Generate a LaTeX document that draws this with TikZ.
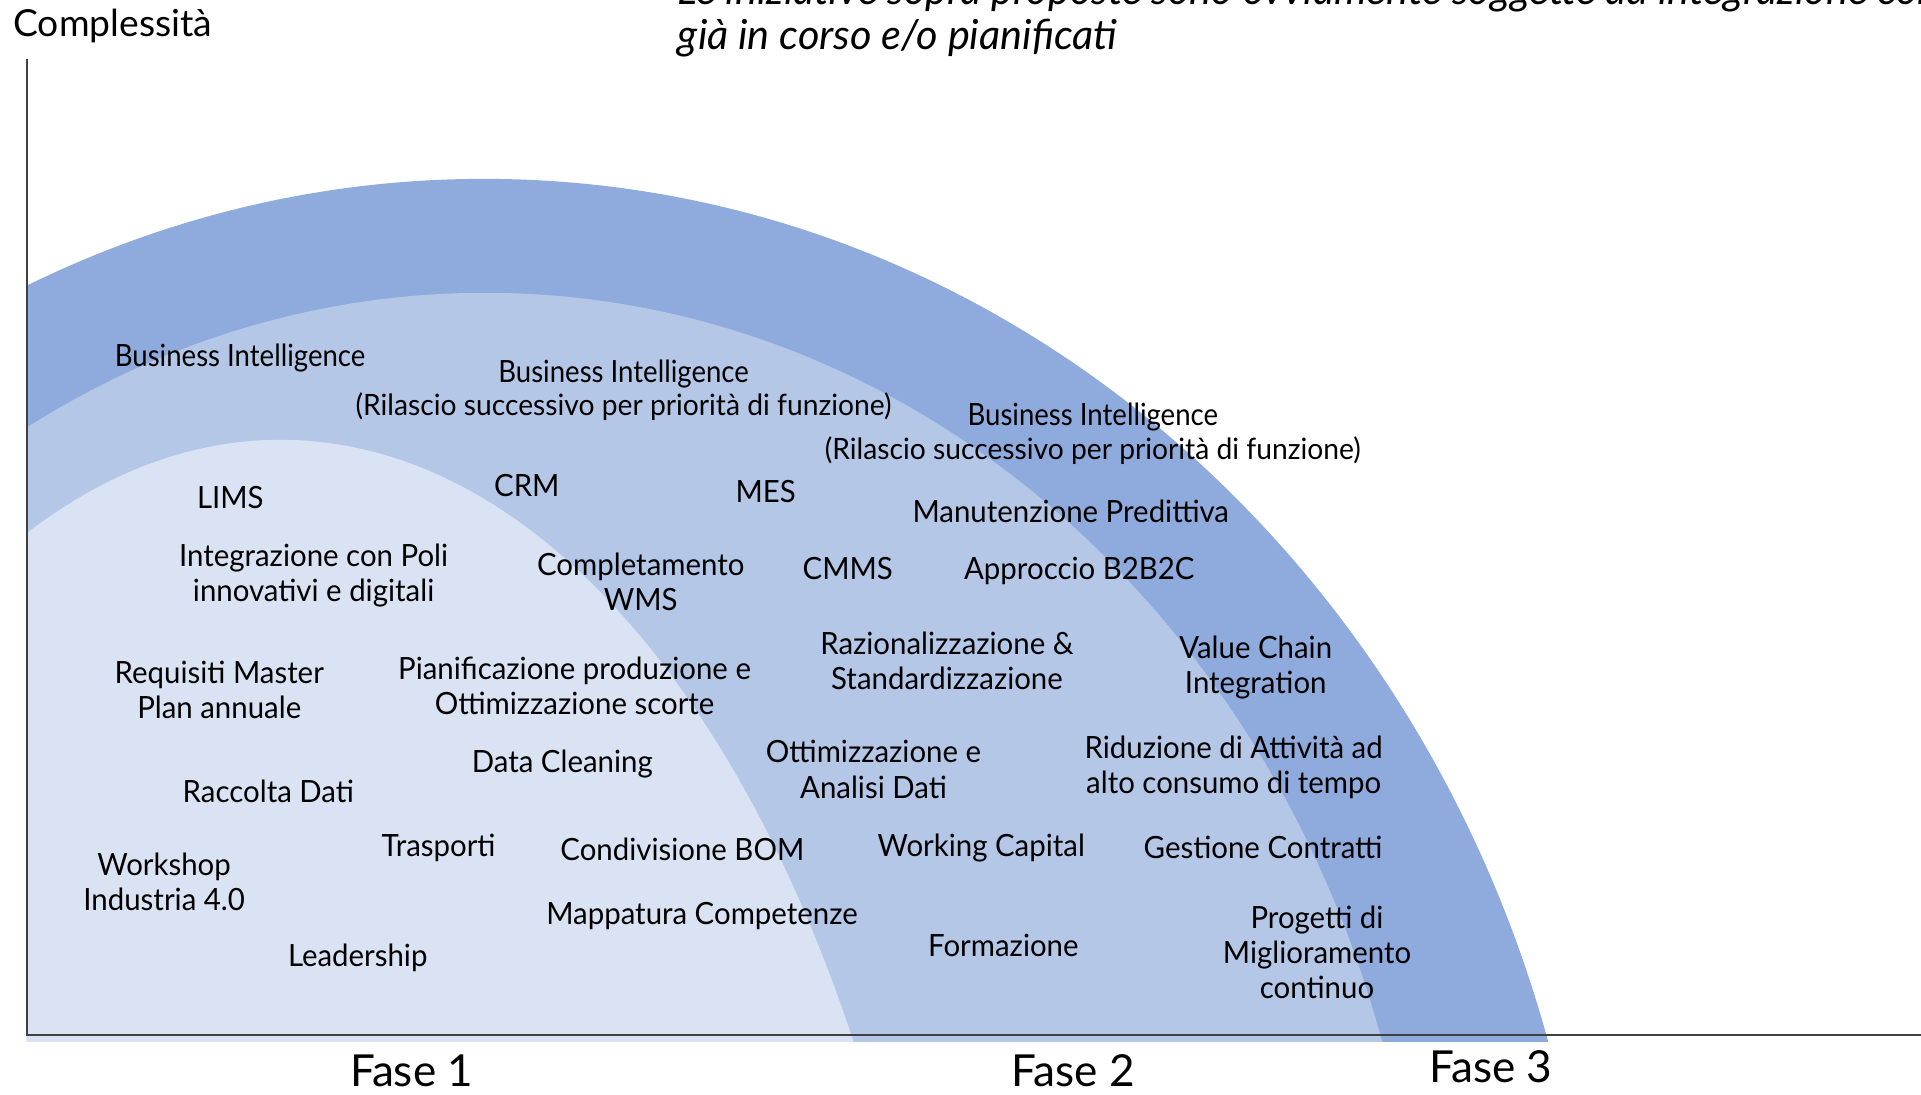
\documentclass[tikz,border=0pt]{standalone}
\usepackage{fontspec}
\setmainfont{Lato}
\newfontfamily\labelfont[FakeStretch=0.96]{Lato}
\newfontfamily\bifont[FakeStretch=0.90]{Lato}
\definecolor{outerc}{HTML}{8FAADC}
\definecolor{midc}{HTML}{B4C7E7}
\definecolor{innerc}{HTML}{DAE3F3}
\definecolor{axisc}{HTML}{404040}
\tikzset{
  lbl/.style={align=center, inner sep=0pt, text=black, font=\labelfont\fontsize{12.5}{14.3}\selectfont},
  bilbl/.style={align=center, inner sep=0pt, text=black, font=\bifont\fontsize{12.5}{14.3}\selectfont},
  lbllight/.style={align=center, inner sep=0pt, text=black, font=\labelfont\fontsize{12}{14.3}\selectfont},
  phase/.style={inner sep=0pt, text=black, font=\fontsize{18}{20}\selectfont},
  ytitle/.style={inner sep=0pt, text=black, font=\fontsize{15.2}{17}\selectfont},
  note/.style={inner sep=0pt, text=black, anchor=base west, font=\fontsize{16.9}{19}\selectfont\itshape},
  axisline/.style={draw=axisc, line width=0.8pt}
}
\begin{document}
\begin{tikzpicture}[x=0.5pt,y=-0.5pt]
\useasboundingbox (0,0) rectangle (1568,893);
\fill[white] (0,0) rectangle (1568,893);
% bands
\begin{scope}
  \clip (22,0) rectangle (1568,850);
  \fill[outerc] (395,1131) ellipse [x radius=906, y radius=985];
  \fill[midc] (396,1101) ellipse [x radius=765, y radius=862];
  \fill[innerc] (229,1402) ellipse [x radius=551, y radius=1043];
\end{scope}
% axes
\draw[axisline] (22,48) -- (22,845) -- (1568,845);
% header
\node[ytitle] (ylabel) at (92,21) {Complessità};
\begin{scope}
  \clip (0,0) rectangle (1568,893);
  \node[note] (note1) at (553,4) {Le iniziative sopra proposte sono ovviamente soggette ad integrazione con};
\end{scope}
\node[note] (note2) at (553,40) {già in corso e/o pianificati};
% phases
\node[phase] (f1) at (336,874) {Fase 1};
\node[phase] (f2) at (876,874) {Fase 2};
\node[phase] (f3) at (1217,871) {Fase 3};
% labels
\node[bilbl] (bi1) at (196,292) {Business Intelligence};
\node[bilbl] (bi2) at (509,305) {Business Intelligence};
\node[lbllight] (bi2r) at (509,332) {(Rilascio successivo per priorità di funzione)};
\node[bilbl] (bi3) at (892,340) {Business Intelligence};
\node[lbllight] (bi3r) at (892,368) {(Rilascio successivo per priorità di funzione)};
\node[lbl] (lims) at (188,406) {LIMS};
\node[lbl] (crm) at (430,396) {CRM};
\node[lbl] (mes) at (625,401) {MES};
\node[lbl] (manut) at (874,417) {Manutenzione Predittiva};
\node[lbl] (poli) at (256,469.5) {Integrazione con Poli\\innovativi e digitali};
\node[lbl] (wms) at (523,475) {Completamento\\WMS};
\node[lbl] (cmms) at (692,464) {CMMS};
\node[lbl] (b2b) at (881,466) {Approccio B2B2C};
\node[lbl] (razio) at (773,539.5) {Razionalizzazione \&\\Standardizzazione};
\node[lbl] (vcint) at (1025,545) {Value Chain\\Integration};
\node[lbl] (req) at (179,563) {Requisiti Master\\Plan annuale};
\node[lbl] (pian) at (469,560) {Pianificazione produzione e\\Ottimizzazione scorte};
\node[lbl] (datac) at (459,624) {Data Cleaning};
\node[lbl] (ottim) at (713,628) {Ottimizzazione e\\Analisi Dati};
\node[lbl] (ridu) at (1007,626.5) {Riduzione di Attività ad\\alto consumo di tempo};
\node[lbl] (racc) at (219,646) {Raccolta Dati};
\node[lbl] (trasp) at (358,692) {Trasporti};
\node[lbl] (bom) at (557,693) {Condivisione BOM};
\node[lbl] (wcap) at (801,692) {Working Capital};
\node[lbl] (gest) at (1031,692) {Gestione Contratti};
\node[lbl] (work) at (134,720) {Workshop\\Industria 4.0};
\node[lbl] (mapp) at (573,748) {Mappatura Competenze};
\node[lbl] (form) at (819,772) {Formazione};
\node[lbl] (prog) at (1075,777.5) {Progetti di\\Miglioramento\\continuo};
\node[lbl] (lead) at (292,782) {Leadership};
\end{tikzpicture}
\end{document}
